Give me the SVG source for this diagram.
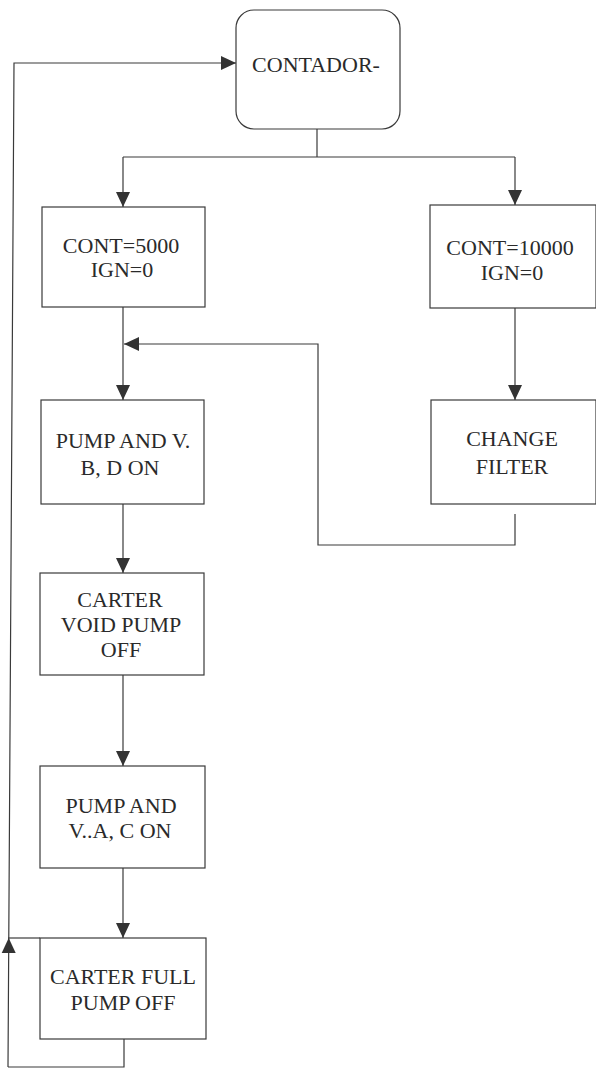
<svg xmlns="http://www.w3.org/2000/svg" width="596" height="1069" viewBox="0 0 596 1069">
<style>
.box{fill:#fff;stroke:#3a3a3a;stroke-width:1.2}
.ln{fill:none;stroke:#3a3a3a;stroke-width:1.2}
.t{font-family:"Liberation Serif","Times New Roman",serif;font-size:22px;fill:#2a2a2a;text-anchor:middle}
</style>
<defs>
<marker id="ah" viewBox="0 0 15 14" refX="15" refY="7" markerWidth="15" markerHeight="14" markerUnits="userSpaceOnUse" orient="auto">
<path d="M0,0 L15,7 L0,14 Z" fill="#333"/>
</marker>
</defs>
<rect width="596" height="1069" fill="#fff"/>
<g id="connectors">
<path class="ln" d="M317,129 V157"/>
<path class="ln" d="M123,157 H515"/>
<path class="ln" d="M123,157 V207" marker-end="url(#ah)"/>
<path class="ln" d="M515,157 V205" marker-end="url(#ah)"/>
<path class="ln" d="M123,307 V400" marker-end="url(#ah)"/>
<path class="ln" d="M515,308 V400" marker-end="url(#ah)"/>
<path class="ln" d="M515,514 V545 H318 V344 H124" marker-end="url(#ah)"/>
<path class="ln" d="M123,504 V573" marker-end="url(#ah)"/>
<path class="ln" d="M123,675 V766" marker-end="url(#ah)"/>
<path class="ln" d="M123,868 V938" marker-end="url(#ah)"/>
<path class="ln" d="M124,1039 V1067 H8"/>
<path class="ln" d="M8,1067 L14,63 H236" marker-end="url(#ah)"/>
<path class="ln" d="M8,938 H40"/>
<path d="M8.7,938 L15.7,953 L1.7,953 Z" fill="#333"/>
</g>
<g id="contador">
<rect class="box" x="236" y="10" width="164" height="119" rx="18" ry="18"/>
<text class="t" x="316" y="72">CONTADOR-</text>
</g>
<g id="cont5000">
<rect class="box" x="42" y="207" width="163" height="100"/>
<text class="t" x="121" y="253">CONT=5000</text>
<text class="t" x="122" y="277">IGN=0</text>
</g>
<g id="cont10000">
<rect class="box" x="430" y="205" width="166" height="103"/>
<text class="t" x="510" y="255">CONT=10000</text>
<text class="t" x="512" y="280">IGN=0</text>
</g>
<g id="changefilter">
<rect class="box" x="431" y="400" width="165" height="104"/>
<text class="t" x="512" y="446">CHANGE</text>
<text class="t" x="512" y="474">FILTER</text>
</g>
<g id="pumpbd">
<rect class="box" x="41" y="400" width="163" height="104"/>
<text class="t" x="123" y="448">PUMP AND V.</text>
<text class="t" x="120" y="475">B, D ON</text>
</g>
<g id="cartervoid">
<rect class="box" x="40" y="573" width="164" height="102"/>
<text class="t" x="120" y="607">CARTER</text>
<text class="t" x="121" y="632">VOID PUMP</text>
<text class="t" x="121" y="657">OFF</text>
</g>
<g id="pumpac">
<rect class="box" x="40" y="766" width="165" height="102"/>
<text class="t" x="121" y="813">PUMP AND</text>
<text class="t" x="120" y="838">V..A, C ON</text>
</g>
<g id="carterfull">
<rect class="box" x="40" y="938" width="166" height="101"/>
<text class="t" x="123" y="984">CARTER FULL</text>
<text class="t" x="123" y="1010">PUMP OFF</text>
</g>
</svg>
